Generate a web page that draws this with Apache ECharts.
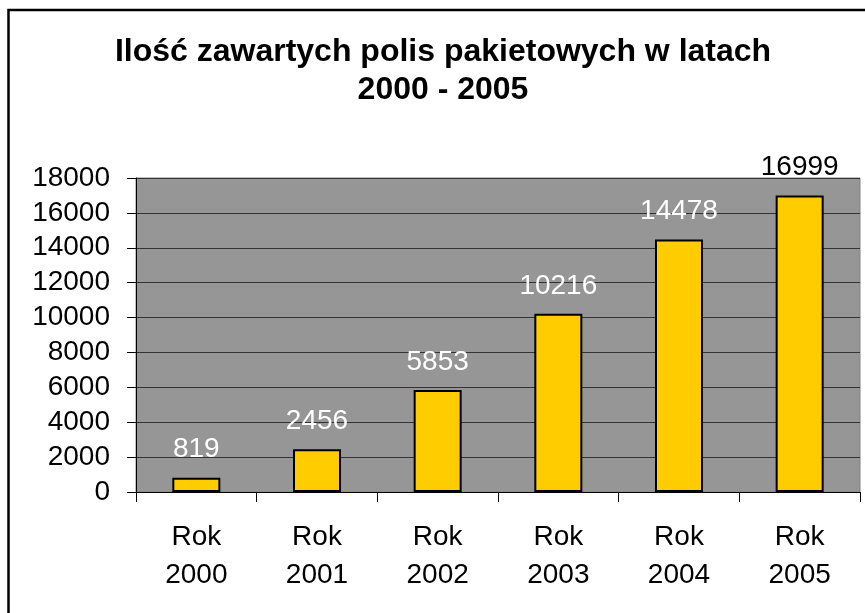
<!DOCTYPE html>
<html>
<head>
<meta charset="utf-8">
<script src="https://cdn.jsdelivr.net/npm/echarts@6/dist/echarts.min.js"></script>
<style>
	html, body { margin: 0; padding: 0; background: #fff; }
	#chart { width: 865px; height: 613px; }
</style>
</head>
<body>
<div id="chart"></div>
<script>
	var categories = ['Rok 2000', 'Rok 2001', 'Rok 2002', 'Rok 2003', 'Rok 2004', 'Rok 2005'];
	var values = [819, 2456, 5853, 10216, 14478, 16999];
	var yTicks = [0, 2000, 4000, 6000, 8000, 10000, 12000, 14000, 16000, 18000];
	var titleText = 'Ilość zawartych polis pakietowych w latach\n2000 - 2005';

	var font = 'Liberation Sans, Arial, sans-serif';

	// slupki - etykieta nad najwyzszym wychodzi poza szary obszar, wiec czarna
	var barData = values.map(function(v) {
		var item = { value: v };
		if (v > yTicks[yTicks.length - 1] - 2000) {
			item.label = { color: '#000' };
		}
		return item;
	});

	var chart = echarts.init(document.getElementById('chart'));
	var option = {
		backgroundColor: '#fff',
		animation: false,
		graphic: [{
			// tytul jako tekst, bo nie jest dokladnie na srodku
			type: 'text',
			x: 443,
			y: 33,
			style: {
				text: titleText,
				align: 'center',
				verticalAlign: 'top',
				fontFamily: font,
				fontSize: 32,
				fontWeight: 'bold',
				fill: '#000',
				lineHeight: 38
			}
		}, {
			type: 'rect',
			shape: { x: 8.5, y: 10, width: 900, height: 700 },
			style: { fill: 'none', stroke: '#000', lineWidth: 2.5 },
			z: 100
		}],
		grid: {
			left: 136,
			right: 5,
			top: 178,
			bottom: 121,
			show: true,
			backgroundColor: '#969696',
			borderColor: '#808080',
			borderWidth: 1
		},
		xAxis: {
			type: 'category',
			data: categories,
			axisLine: { lineStyle: { color: '#000', width: 1 } },
			axisTick: { show: true, length: 10, lineStyle: { color: '#000' } },
			axisLabel: {
				interval: 0,
				margin: 26,
				fontFamily: font,
				fontSize: 28,
				color: '#000',
				lineHeight: 38,
				formatter: function(v) { return v.replace(' ', '\n'); }
			}
		},
		yAxis: {
			type: 'value',
			min: yTicks[0],
			max: yTicks[yTicks.length - 1],
			interval: 2000,
			axisLine: { show: true, lineStyle: { color: '#000', width: 1 } },
			axisTick: { show: true, length: 9, lineStyle: { color: '#000' } },
			axisLabel: {
				margin: 26,
				fontFamily: font,
				fontSize: 28,
				color: '#000',
				formatter: function(v) { return String(v); }
			},
			splitLine: { lineStyle: { color: '#333', width: 1 } }
		},
		series: [{
			type: 'bar',
			data: barData,
			barWidth: 48,
			itemStyle: {
				color: '#FFCC00',
				borderColor: '#000',
				borderWidth: 2
			},
			label: {
				show: true,
				position: 'top',
				distance: 14,
				fontFamily: font,
				fontSize: 28,
				color: '#fff'
			}
		}]
	};
	chart.setOption(option);
</script>
</body>
</html>
